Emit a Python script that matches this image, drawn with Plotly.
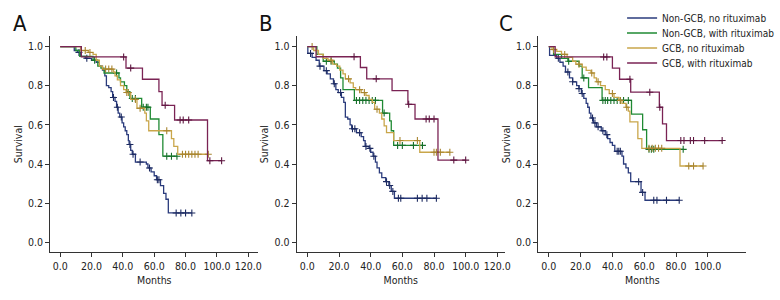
import numpy as np
import plotly.graph_objects as go

# ---------------- data ----------------
series_names = ["Non-GCB, no rituximab", "Non-GCB, with rituximab",
                "GCB, no rituximab", "GCB, with rituximab"]
panel_labels = ["A", "B", "C"]
x_ticks_ab = [0, 20, 40, 60, 80, 100, 120]
x_ticks_c = [0, 20, 40, 60, 80, 100]
y_ticks = [0.0, 0.2, 0.4, 0.6, 0.8, 1.0]

# Panel A
A_ngnr_t = [0, 9, 11, 13, 16, 20, 23, 25, 27, 28.5, 29.5, 31, 32.5, 33.5, 35, 36, 37, 38, 39.5,
            40.5, 41.5, 42.5, 43.5, 44, 45, 46, 48, 55, 56, 58, 60, 61.5, 64, 66, 67.5, 69]
A_ngnr_s = [1.0, 0.98, 0.97, 0.95, 0.94, 0.93, 0.92, 0.90, 0.88, 0.85, 0.80, 0.79, 0.77, 0.74, 0.72,
            0.69, 0.66, 0.64, 0.61, 0.59, 0.57, 0.55, 0.52, 0.50, 0.47, 0.45, 0.41, 0.40, 0.38, 0.36,
            0.34, 0.32, 0.29, 0.25, 0.22, 0.15]
A_ngnr_end = 84
A_ngnr_cens = [12, 17, 34, 36.5, 39, 44.5, 46.5, 51, 57, 62, 63, 74, 77, 80, 84]

A_ngr_t = [0, 10, 12.5, 21, 24, 26, 28, 37.5, 38.5, 41, 42.5, 44.5, 52, 57.5, 63, 65.5]
A_ngr_s = [1.0, 0.98, 0.95, 0.93, 0.90, 0.89, 0.865, 0.84, 0.82, 0.80, 0.77, 0.735, 0.69, 0.63, 0.55, 0.44]
A_ngr_end = 74.5
A_ngr_cens = [22, 36, 46, 48, 53, 55, 56, 68, 71, 74.5]

A_gnr_t = [0, 13, 18, 21, 23, 25, 27, 34, 35, 36.5, 38.5, 40.5, 42, 45, 49, 54, 55, 56.5, 71, 72.5, 75]
A_gnr_s = [1.0, 0.98, 0.97, 0.96, 0.93, 0.90, 0.885, 0.87, 0.85, 0.83, 0.80, 0.78, 0.765, 0.73, 0.685,
           0.66, 0.62, 0.57, 0.53, 0.49, 0.45]
A_gnr_end = 94.5
A_gnr_cens = [16, 19, 29, 31, 33, 42.5, 43.5, 48, 51, 68, 78, 80, 82, 84, 86, 88, 94.5]

A_gr_t = [0, 13.5, 42, 52.5, 63, 65, 73, 94]
A_gr_s = [1.0, 0.947, 0.89, 0.833, 0.77, 0.70, 0.625, 0.417]
A_gr_end = 103
A_gr_cens = [40.5, 45, 67, 76.5, 78.5, 82, 95.5, 103]

# Panel B
B_ngnr_t = [0, 0.3, 3, 5.5, 7.5, 10.5, 12.5, 14.5, 16.5, 18, 19.5, 21.5, 23, 24, 25.5, 27, 28, 31,
            34, 35.5, 36.5, 39, 40, 41.5, 43, 44, 45.5, 47, 49.5, 51.5, 53, 55]
B_ngnr_s = [1.0, 0.965, 0.945, 0.93, 0.90, 0.877, 0.86, 0.835, 0.81, 0.78, 0.765, 0.74, 0.715, 0.64,
            0.63, 0.60, 0.58, 0.56, 0.54, 0.52, 0.49, 0.48, 0.46, 0.44, 0.41, 0.38, 0.355, 0.33, 0.31,
            0.29, 0.26, 0.225]
B_ngnr_end = 81.5
B_ngnr_cens = [2, 8, 12, 17, 21, 28.5, 30, 33, 37, 39.5, 42, 50, 52, 54, 57.5, 59, 69.5, 72.5, 75.5, 81.5]

B_ngr_t = [0, 6, 10, 17, 19, 21, 22.5, 29.7, 47.5, 52, 53, 54.5]
B_ngr_s = [1.0, 0.96, 0.925, 0.91, 0.89, 0.84, 0.78, 0.725, 0.66, 0.62, 0.57, 0.495]
B_ngr_end = 72.7
B_ngr_cens = [12, 15, 31, 33, 35, 37, 39, 41, 43, 48.5, 57, 60, 67, 72.7]

B_gnr_t = [0, 4, 7, 10, 13, 16, 18.5, 20.5, 22.5, 24, 27, 29, 30.5, 34, 37, 39, 41, 42.5, 45.5, 47,
           48.5, 50, 54.5, 71]
B_gnr_s = [1.0, 0.98, 0.96, 0.94, 0.93, 0.91, 0.90, 0.88, 0.86, 0.835, 0.815, 0.79, 0.78, 0.765, 0.75,
           0.73, 0.715, 0.68, 0.66, 0.63, 0.595, 0.56, 0.52, 0.46]
B_gnr_end = 90
B_gnr_cens = [3, 15, 26, 33, 36, 44, 58.5, 69.5, 80, 81.5, 84, 90]

B_gr_t = [0, 5.5, 33.5, 37.5, 53.5, 63.5, 68, 82.5]
B_gr_s = [1.0, 0.948, 0.893, 0.835, 0.775, 0.705, 0.63, 0.42]
B_gr_end = 100
B_gr_cens = [29.5, 43.5, 64, 75, 77, 80, 92.5, 100]

# Panel C
C_ngnr_t = [0, 0.5, 5, 7, 9, 10.5, 13, 15, 17.5, 19, 20.5, 22, 23.5, 24.5, 25.5, 26.5, 28, 30, 33,
            35.5, 37, 38.5, 40, 41.5, 46, 47, 48.5, 50, 51.5, 58, 60.5]
C_ngnr_s = [1.0, 0.955, 0.94, 0.92, 0.90, 0.87, 0.84, 0.82, 0.80, 0.785, 0.76, 0.735, 0.71, 0.69, 0.66,
            0.635, 0.61, 0.59, 0.57, 0.55, 0.53, 0.51, 0.495, 0.465, 0.44, 0.40, 0.38, 0.355, 0.31,
            0.255, 0.215]
C_ngnr_end = 82
C_ngnr_cens = [6, 12, 15, 19, 21, 27.5, 29, 31, 34, 36.5, 43, 44, 45, 56.5, 59, 66, 68, 74, 82]

C_ngr_t = [0, 3, 8, 12, 19, 21, 25, 33.5, 52, 59, 61.5]
C_ngr_s = [1.0, 0.96, 0.94, 0.925, 0.90, 0.84, 0.79, 0.725, 0.655, 0.575, 0.475]
C_ngr_end = 84.5
C_ngr_cens = [12.5, 22, 34, 35.5, 37, 39, 41, 43, 45, 47, 50, 63, 64.5, 66, 84.5]

C_gnr_t = [0, 2, 5, 8, 11.5, 15, 17, 21, 23.5, 26.5, 28.5, 30, 32.5, 35.5, 38, 41, 44, 46, 48.5, 50,
           51, 56, 58.5, 82.5]
C_gnr_s = [1.0, 0.985, 0.975, 0.96, 0.945, 0.925, 0.91, 0.895, 0.878, 0.865, 0.84, 0.82, 0.80, 0.78,
           0.76, 0.74, 0.725, 0.71, 0.69, 0.67, 0.615, 0.53, 0.48, 0.39]
C_gnr_end = 97
C_gnr_cens = [3, 10, 19, 27, 31, 40, 45, 49, 63, 65, 67, 69, 71, 88, 91, 97]

C_gr_t = [0, 4, 40, 44.5, 51.5, 69.5, 71.5, 74]
C_gr_s = [1.0, 0.947, 0.89, 0.833, 0.767, 0.69, 0.605, 0.52]
C_gr_end = 109
C_gr_cens = [34.5, 36.5, 51, 63.5, 69.8, 83, 85, 89, 91, 98, 109]

# ---------------- styling ----------------
line_colors = ["#2a3b7c", "#1f8a33", "#c9a64a", "#7a2354"]
mark_colors = ["#1c2a60", "#16702a", "#a88530", "#5e1640"]
FONT = "Liberation Sans Narrow, Arial Narrow, DejaVu Sans Condensed, sans-serif"
TXT = "#222222"

panels = [
    [(A_ngnr_t, A_ngnr_s, A_ngnr_end, A_ngnr_cens), (A_ngr_t, A_ngr_s, A_ngr_end, A_ngr_cens),
     (A_gnr_t, A_gnr_s, A_gnr_end, A_gnr_cens), (A_gr_t, A_gr_s, A_gr_end, A_gr_cens)],
    [(B_ngnr_t, B_ngnr_s, B_ngnr_end, B_ngnr_cens), (B_ngr_t, B_ngr_s, B_ngr_end, B_ngr_cens),
     (B_gnr_t, B_gnr_s, B_gnr_end, B_gnr_cens), (B_gr_t, B_gr_s, B_gr_end, B_gr_cens)],
    [(C_ngnr_t, C_ngnr_s, C_ngnr_end, C_ngnr_cens), (C_ngr_t, C_ngr_s, C_ngr_end, C_ngr_cens),
     (C_gnr_t, C_gnr_s, C_gnr_end, C_gnr_cens), (C_gr_t, C_gr_s, C_gr_end, C_gr_cens)],
]

# full-window figure (the page margin is removed in post_script below)
W, H = 780, 300
x_domains_px = [(51, 262), (301, 512), (546, 757)]
x_ranges = [[-6.3, 126.4], [-6.7, 124.7], [-6.6, 124.2]]
y_top_px, y_bot_px = 36, 252.3
y_dom = [1 - y_bot_px / H, 1 - y_top_px / H]
y_range = [-0.051, 1.054]

fig = go.Figure()
legend_ids = ["legend", "legend2", "legend3", "legend4"]

for p, curves in enumerate(panels):
    xa = "x" if p == 0 else f"x{p+1}"
    ya = "y" if p == 0 else f"y{p+1}"
    for k, (t, s, end, cens) in enumerate(curves):
        xs = list(t) + [end]
        ys = list(s) + [s[-1]]
        fig.add_trace(go.Scatter(
            x=xs, y=ys, mode="lines", line=dict(shape="hv", color=line_colors[k], width=1.3),
            name=series_names[k], showlegend=(p == 2), legend=legend_ids[k],
            xaxis=xa, yaxis=ya, hoverinfo="skip"))
        ta = np.asarray(t, dtype=float)
        sa = np.asarray(s, dtype=float)
        ca = np.asarray(cens, dtype=float)
        idx = np.clip(np.searchsorted(ta, ca, side="right") - 1, 0, len(sa) - 1)
        fig.add_trace(go.Scatter(
            x=ca, y=sa[idx], mode="markers",
            marker=dict(symbol="cross-thin", size=5, line=dict(width=1.1, color=mark_colors[k])),
            showlegend=False, xaxis=xa, yaxis=ya, hoverinfo="skip"))

axis_common = dict(showline=True, linecolor="#333333", linewidth=1.2, showgrid=False, zeroline=False,
                   ticks="outside", ticklen=4, tickcolor="#333333", tickwidth=1, tickangle=0,
                   tickfont=dict(family=FONT, size=10.5, color=TXT), tickformat=".1f")

layout = dict(width=W, height=H, margin=dict(l=0, r=0, t=0, b=0),
              paper_bgcolor="white", plot_bgcolor="white",
              font=dict(family=FONT, size=10, color=TXT))

for p in range(3):
    sx = "" if p == 0 else str(p + 1)
    d0, d1 = x_domains_px[p]
    layout[f"xaxis{sx}"] = dict(axis_common, domain=[d0 / W, d1 / W], range=x_ranges[p],
                                tickvals=x_ticks_c if p == 2 else x_ticks_ab,
                                anchor=f"y{sx}",
                                title=dict(text="Months", standoff=5,
                                           font=dict(family=FONT, size=10.5, color=TXT)))
    layout[f"yaxis{sx}"] = dict(axis_common, domain=y_dom, range=y_range, tickvals=y_ticks,
                                anchor=f"x{sx}",
                                title=dict(text="Survival", standoff=3,
                                           font=dict(family=FONT, size=10.5, color=TXT)))

legend_rows_px = [18, 33, 48, 63]   # page pixels of the row centres
for k, lid in enumerate(legend_ids):
    layout[lid] = dict(x=(662 - 31) / W, xanchor="left",
                       y=1 - legend_rows_px[k] / H, yanchor="middle",
                       bgcolor="rgba(0,0,0,0)", borderwidth=0,
                       font=dict(family=FONT, size=10, color=TXT))

fig.update_layout(**layout)

letter_x_px = [20, 270, 513]
for p, lab in enumerate(panel_labels):
    fig.add_annotation(text=lab, xref="paper", yref="paper", x=letter_x_px[p] / W,
                       y=1 - 23 / H,
                       xanchor="center", yanchor="middle", showarrow=False,
                       font=dict(family=FONT, size=22, color="#111111"))

fig.write_html("out.html", config={"displayModeBar": False},
               post_script="document.body.style.margin='0px';document.body.style.overflow='hidden';")
